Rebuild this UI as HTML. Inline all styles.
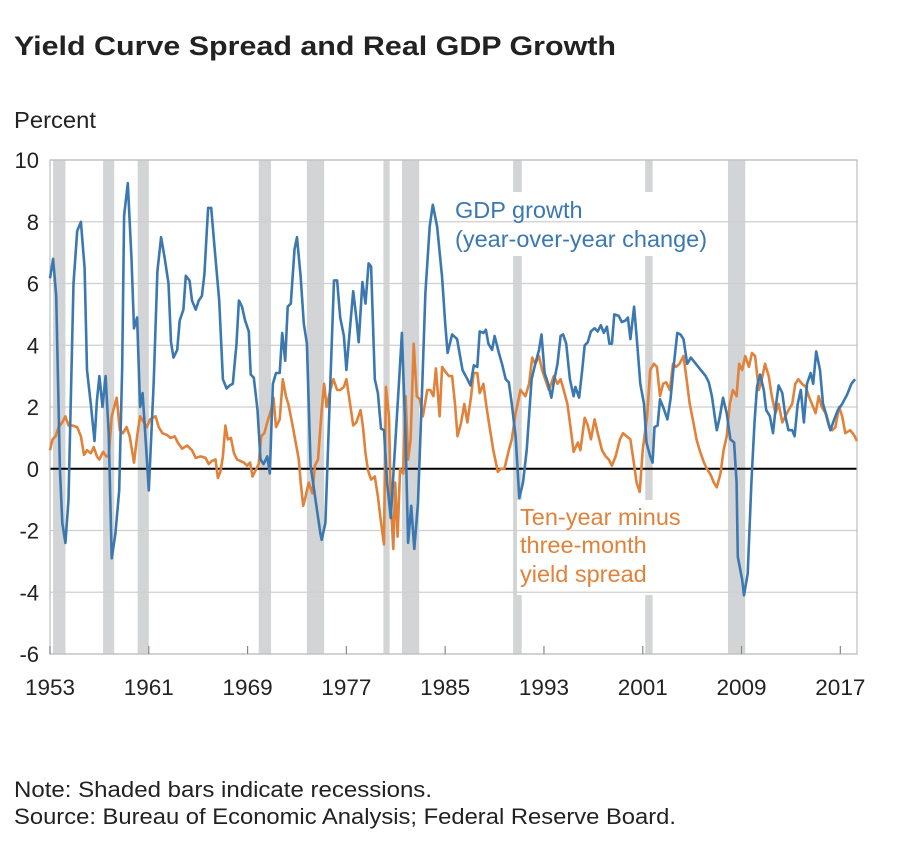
<!DOCTYPE html>
<html><head><meta charset="utf-8"><style>
body{margin:0;background:#fff;font-family:"Liberation Sans",Arial,sans-serif}
svg{display:block}
</style></head><body>
<svg id="chart" width="916" height="846" viewBox="0 0 916 846" xmlns="http://www.w3.org/2000/svg" font-family="Liberation Sans, Arial, sans-serif">
<text x="14" y="55" font-size="27" font-weight="bold" fill="#222" textLength="602" lengthAdjust="spacingAndGlyphs">Yield Curve Spread and Real GDP Growth</text>
<text x="14" y="128" font-size="23" fill="#222" textLength="82" lengthAdjust="spacingAndGlyphs">Percent</text>
<g id="rec"></g>
<g id="masks">
<rect x="452" y="192" width="262" height="64" fill="#fff"/>
<rect x="517" y="500" width="170" height="95" fill="#fff"/>
</g>
<g id="grid"></g>
<g id="yt"></g>
<g id="xt"></g>
<g id="series"></g>
<text x="455" y="218" font-size="23.5" fill="#3b78b0">GDP growth</text>
<text x="455" y="247" font-size="23.5" fill="#3b78b0">(year-over-year change)</text>
<text x="520" y="525" font-size="23.5" fill="#e0823a">Ten-year minus</text>
<text x="520" y="553" font-size="23.5" fill="#e0823a">three-month</text>
<text x="520" y="582" font-size="23.5" fill="#e0823a">yield spread</text>
<text x="14" y="797" font-size="22" fill="#222" textLength="418" lengthAdjust="spacingAndGlyphs">Note: Shaded bars indicate recessions.</text>
<text x="14" y="824" font-size="22" fill="#222" textLength="662" lengthAdjust="spacingAndGlyphs">Source: Bureau of Economic Analysis; Federal Reserve Board.</text>
</svg>
<script>
const yTicks=[10,8,6,4,2,0,-2,-4,-6];
const xTicks=[1953,1961,1969,1977,1985,1993,2001,2009,2017];
const recStart=[1953.25,1957.3,1960.1,1969.9,1973.8,1980.0,1981.5,1990.5,2001.2,2007.9];
const recEnd=[1954.25,1958.2,1961.0,1970.9,1975.2,1980.5,1982.9,1991.2,2001.8,2009.3];
const gdpYears=[1953.0,1953.25,1953.5,1953.8,1954.0,1954.25,1954.5,1954.9,1955.2,1955.5,1955.8,1956.0,1956.3,1956.6,1956.8,1957.0,1957.25,1957.5,1957.75,1958.0,1958.3,1958.6,1958.85,1959.0,1959.3,1959.6,1959.8,1960.05,1960.3,1960.5,1960.8,1961.0,1961.4,1961.7,1962.0,1962.3,1962.6,1962.8,1963.0,1963.3,1963.5,1963.8,1964.0,1964.3,1964.5,1964.8,1965.05,1965.3,1965.5,1965.8,1966.05,1966.3,1966.7,1967.0,1967.3,1967.55,1967.8,1968.1,1968.3,1968.55,1968.8,1969.1,1969.25,1969.5,1969.8,1970.05,1970.3,1970.6,1970.8,1971.05,1971.3,1971.6,1971.8,1972.05,1972.25,1972.5,1972.8,1973.0,1973.3,1973.55,1973.8,1974.1,1974.5,1974.9,1975.0,1975.3,1975.7,1976.0,1976.25,1976.5,1976.8,1977.0,1977.3,1977.55,1977.8,1978.0,1978.3,1978.55,1978.8,1979.0,1979.3,1979.55,1979.8,1980.05,1980.3,1980.6,1980.85,1981.25,1981.5,1981.8,1982.0,1982.25,1982.5,1982.8,1983.15,1983.4,1983.75,1984.0,1984.35,1984.75,1985.0,1985.2,1985.56,1985.97,1986.4,1986.8,1987.05,1987.32,1987.6,1987.8,1988.1,1988.3,1988.5,1988.8,1989.0,1989.35,1989.6,1989.9,1990.15,1990.4,1990.7,1991.0,1991.3,1991.6,1992.0,1992.3,1992.6,1992.8,1993.05,1993.3,1993.6,1993.8,1994.1,1994.35,1994.55,1994.8,1995.1,1995.4,1995.55,1995.85,1996.1,1996.3,1996.55,1996.8,1997.1,1997.35,1997.6,1997.85,1998.1,1998.3,1998.5,1998.7,1999.05,1999.3,1999.6,1999.8,2000.0,2000.3,2000.55,2000.8,2001.1,2001.3,2001.6,2001.8,2001.95,2002.2,2002.4,2002.7,2003.0,2003.25,2003.5,2003.8,2004.05,2004.3,2004.6,2004.9,2005.3,2005.5,2005.8,2006.1,2006.35,2006.6,2006.9,2007.0,2007.25,2007.5,2007.8,2008.1,2008.4,2008.6,2008.7,2009.05,2009.2,2009.5,2009.8,2010.05,2010.25,2010.5,2010.8,2011.0,2011.3,2011.55,2011.8,2012.0,2012.3,2012.55,2012.8,2013.1,2013.3,2013.55,2013.8,2014.05,2014.3,2014.6,2014.8,2015.05,2015.35,2015.6,2015.9,2016.2,2016.5,2016.8,2017.15,2017.55,2017.9,2018.2];
const gdpValues=[6.17,6.8,5.6,0,-1.75,-2.4,-1.0,6.0,7.7,8.0,6.5,3.2,2.1,0.9,2.2,3.0,2.0,3.0,1.15,-2.9,-2.1,-0.7,3.3,8.2,9.25,6.8,4.55,4.9,2.0,2.45,0.6,-0.7,2.8,6.4,7.5,6.8,6.0,4.1,3.6,3.85,4.8,5.15,6.25,6.1,5.45,5.15,5.45,5.6,6.3,8.45,8.45,7.3,5.45,2.9,2.6,2.7,2.75,4.05,5.45,5.25,4.8,4.45,3.05,2.95,1.9,0.3,0.15,0.4,-0.15,2.75,3.1,3.1,4.4,3.5,5.25,5.35,7.1,7.5,6.2,4.7,4.05,0.1,-1.0,-2.1,-2.3,-1.75,2.75,6.1,6.1,4.9,4.3,3.2,4.6,5.75,4.9,4.1,6.05,5.35,6.65,6.55,2.9,2.45,1.3,1.25,-0.45,-1.6,0.1,2.75,4.4,0.95,-2.4,-1.2,-2.6,-1.1,2.75,5.7,7.85,8.55,7.85,6.2,4.7,3.75,4.35,4.2,3.2,2.9,2.7,3.35,3.3,4.45,4.4,4.5,4.05,3.85,4.3,3.75,3.4,2.9,2.8,2.1,1.05,-0.95,-0.45,0.6,2.9,3.4,3.85,4.35,3.1,2.8,2.3,2.8,3.4,4.3,4.35,4.05,2.9,2.35,2.65,2.3,3.2,4.0,4.1,4.45,4.55,4.45,4.65,4.4,4.6,4.05,4.05,5.0,4.95,4.75,4.8,4.9,4.2,5.25,4.05,2.75,2.1,0.85,0.4,0.2,1.35,1.4,2.25,1.95,1.6,2.25,3.3,4.4,4.35,4.2,3.4,3.6,3.4,3.3,3.15,3.0,2.8,2.35,1.5,1.25,1.7,2.3,1.8,0.95,0.85,-0.45,-2.85,-3.6,-4.1,-3.4,-0.45,1.5,2.65,3.05,2.55,1.9,1.7,1.15,2.1,2.7,2.45,1.7,1.25,1.25,1.05,2.1,2.55,1.5,2.75,3.1,2.75,3.8,3.2,2.1,1.7,1.25,1.6,1.9,2.1,2.4,2.75,2.9];
const spreadYears=[1953.0,1953.2,1953.45,1953.7,1954.0,1954.25,1954.5,1954.8,1955.2,1955.5,1955.75,1956.0,1956.3,1956.55,1956.8,1957.0,1957.3,1957.55,1957.75,1958.0,1958.2,1958.4,1958.65,1958.9,1959.2,1959.45,1959.8,1960.05,1960.3,1960.6,1960.85,1961.1,1961.55,1961.8,1962.1,1962.45,1962.75,1963.1,1963.35,1963.7,1964.1,1964.5,1964.8,1965.2,1965.6,1965.85,1966.1,1966.4,1966.6,1966.8,1967.0,1967.2,1967.4,1967.65,1967.9,1968.15,1968.4,1968.7,1968.95,1969.2,1969.4,1969.65,1969.9,1970.1,1970.35,1970.6,1970.9,1971.1,1971.3,1971.6,1971.85,1972.1,1972.3,1972.6,1972.85,1973.15,1973.3,1973.5,1973.7,1973.95,1974.25,1974.45,1974.7,1975.0,1975.2,1975.4,1975.7,1975.95,1976.25,1976.5,1976.8,1977.0,1977.3,1977.55,1977.8,1978.15,1978.35,1978.55,1978.75,1979.0,1979.3,1979.55,1979.75,1980.05,1980.2,1980.45,1980.6,1980.8,1980.95,1981.15,1981.35,1981.6,1981.8,1982.0,1982.2,1982.45,1982.7,1982.95,1983.2,1983.55,1983.8,1984.05,1984.25,1984.55,1984.75,1985.0,1985.3,1985.56,1985.8,1986.0,1986.3,1986.55,1986.8,1987.1,1987.3,1987.6,1987.8,1988.1,1988.35,1988.6,1988.9,1989.26,1989.5,1989.8,1990.15,1990.4,1990.7,1991.1,1991.5,1991.8,1992.05,1992.3,1992.6,1992.85,1993.1,1993.4,1993.8,1994.1,1994.35,1994.6,1994.9,1995.15,1995.4,1995.75,1995.95,1996.3,1996.55,1996.8,1997.1,1997.35,1997.7,1998.0,1998.25,1998.5,1998.8,1999.15,1999.4,1999.7,2000.0,2000.2,2000.5,2000.75,2001.0,2001.35,2001.6,2001.9,2002.15,2002.4,2002.65,2002.9,2003.2,2003.45,2003.7,2003.97,2004.3,2004.55,2004.8,2005.1,2005.35,2005.6,2005.95,2006.2,2006.5,2006.75,2007.0,2007.3,2007.55,2007.8,2008.05,2008.3,2008.6,2008.8,2009.05,2009.3,2009.6,2009.85,2010.1,2010.4,2010.65,2010.9,2011.2,2011.45,2011.75,2012.0,2012.3,2012.55,2012.8,2013.1,2013.35,2013.6,2013.9,2014.2,2014.45,2014.7,2015.0,2015.25,2015.5,2015.8,2016.1,2016.35,2016.6,2016.9,2017.15,2017.4,2017.8,2018.1,2018.35];
const spreadValues=[0.6,0.95,1.05,1.35,1.5,1.7,1.4,1.4,1.35,1.05,0.45,0.6,0.5,0.7,0.4,0.3,0.55,0.4,0.4,1.7,2.0,2.3,1.25,1.15,1.35,1.05,0.2,1.05,1.7,1.5,1.35,1.6,1.7,1.35,1.15,1.1,1.0,1.05,0.85,0.65,0.75,0.6,0.35,0.4,0.35,0.15,0.25,0.3,-0.3,-0.1,0.4,1.4,0.95,1.0,0.5,0.3,0.25,0.2,0.1,0.2,-0.25,-0.05,0.15,1.05,1.15,1.5,1.9,2.3,1.35,1.6,2.9,2.35,2.1,1.5,0.95,0.3,-0.45,-1.2,-0.9,-0.45,-0.8,0.1,0.3,1.9,2.75,2.0,2.55,2.9,2.55,2.55,2.65,2.9,2.1,1.4,1.5,1.9,1.35,0.5,-0.05,-0.35,-0.25,-0.9,-1.55,-2.45,2.65,1.7,-1.1,-2.6,-0.45,-2.2,0.0,-0.15,2.35,0.3,0.95,4.05,2.35,2.25,1.7,2.55,2.55,2.35,3.25,1.7,3.3,3.15,3.0,3.0,2.1,1.05,1.5,2.1,1.5,2.35,3.1,3.1,2.45,2.75,2.0,1.35,0.6,-0.1,0.0,0.0,0.6,0.95,1.8,2.55,2.35,2.75,3.6,3.4,3.65,3.2,2.9,2.55,3.0,2.75,2.9,2.55,2.1,1.35,0.55,0.85,0.6,1.65,1.4,0.95,1.6,1.15,0.6,0.4,0.3,0.1,0.4,0.95,1.15,1.05,0.95,0.4,-0.45,-0.75,0.6,1.7,3.2,3.4,3.3,2.35,2.75,2.8,2.55,3.4,3.3,3.4,3.65,2.9,2.1,1.5,0.95,0.6,0.2,0.0,-0.2,-0.45,-0.6,-0.15,0.6,1.05,2.1,2.55,2.35,3.4,3.2,3.65,3.3,3.75,3.65,2.55,2.9,3.4,3.0,2.35,1.8,2.1,1.5,1.7,1.9,2.1,2.75,2.9,2.75,2.65,2.35,2.1,1.8,2.35,2.0,1.8,1.35,1.25,1.35,2.0,1.7,1.15,1.25,1.1,0.9];

const NS='http://www.w3.org/2000/svg';
const L=50,R=857,T=160,B=654,X0=1953,X1=2018.35,Y0=-6,Y1=10;
function xs(v){return L+(v-X0)/(X1-X0)*(R-L);}
function ys(v){return B-(v-Y0)/(Y1-Y0)*(B-T);}
function mk(tag,attrs,parent){const e=document.createElementNS(NS,tag);for(const k in attrs)e.setAttribute(k,attrs[k]);parent.appendChild(e);return e;}

const rec=document.getElementById('rec');
for(let i=0;i<recStart.length;i++){
  const r=mk('rect',{x:xs(recStart[i]),y:T,width:xs(recEnd[i])-xs(recStart[i]),height:B-T,fill:'#d3d4d6'},rec);
  
  
}
const grid=document.getElementById('grid'),yt=document.getElementById('yt');
for(const v of yTicks){
  const ln=mk('line',{x1:L,x2:R,y1:ys(v),y2:ys(v),stroke:v===0?'#000':'#cfcfcf','stroke-width':v===0?2:1.2},grid);
  
  
  const t=mk('text',{x:39,y:ys(v)+8,'font-size':22,'text-anchor':'end',fill:'#222'},yt);
  t.textContent=v;
  
  
}
const bx=mk('rect',{x:L,y:T,width:R-L,height:B-T,fill:'none',stroke:'#bdbdbd','stroke-width':1.2},grid);


const xt=document.getElementById('xt');
for(const v of xTicks){
  const tk=mk('line',{x1:xs(v),x2:xs(v),y1:B,y2:B-8,stroke:'#888','stroke-width':1.2},xt);
  
  
  const t=mk('text',{x:xs(v),y:B+41,'font-size':22.5,'text-anchor':'middle',fill:'#222'},xt);
  t.textContent=v;
  
  
}
function line(xa,ya,col,name){
  const d=xa.map((x,i)=>(i?'L':'M')+xs(x).toFixed(1)+','+ys(ya[i]).toFixed(1)).join('');
  const p=mk('path',{d:d,fill:'none',stroke:col,'stroke-width':2.6,'stroke-linejoin':'round'},document.getElementById('series'));
  
  
}
line(spreadYears,spreadValues,'#e0823a','spread-line');
line(gdpYears,gdpValues,'#3b78b0','gdp-line');
</script>
</body></html>
